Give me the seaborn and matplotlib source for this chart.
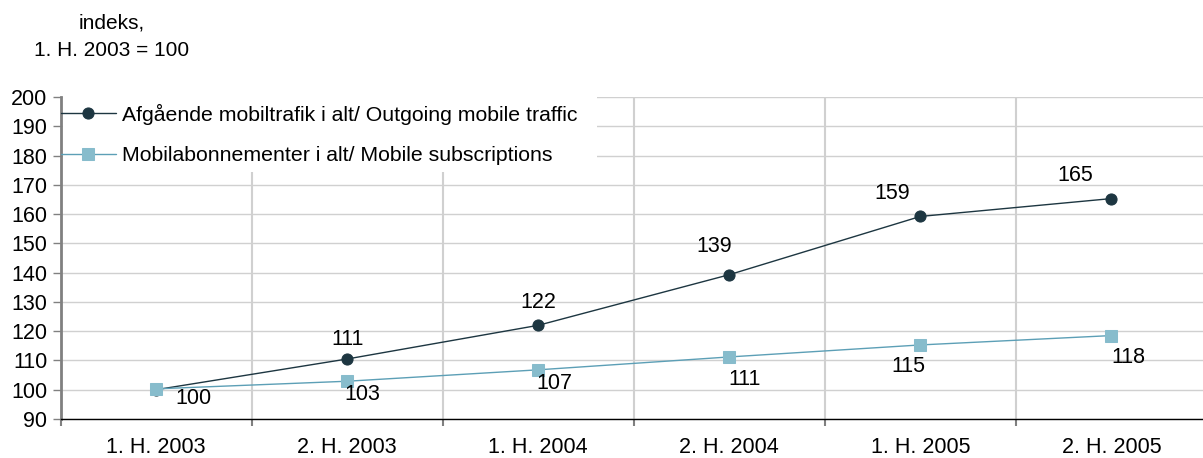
import numpy as np
import pandas as pd
import seaborn as sns
import matplotlib.pyplot as plt
from matplotlib.ticker import FixedLocator
from matplotlib.patches import Rectangle

periods = ['1. H. 2003', '2. H. 2003', '1. H. 2004', '2. H. 2004', '1. H. 2005', '2. H. 2005']
traffic = [100, 110.5, 122, 139.3, 159.2, 165.3]
subscriptions = [100.3, 102.9, 106.8, 111.2, 115.3, 118.5]
traffic_labels = ['', '111', '122', '139', '159', '165']
subs_labels = ['100', '103', '107', '111', '115', '118']

name_traffic = 'Afgående mobiltrafik i alt/ Outgoing mobile traffic'
name_subs = 'Mobilabonnementer i alt/ Mobile subscriptions'

# label offsets in pixels (dx, dy)
traffic_off = [(0, 0), (0, 19), (0, 23), (-15, 28), (-28, 23), (-36, 23)]
subs_off = [(37, -10), (15, -13), (16, -14), (15, -23), (-12, -22), (17, -22)]

df = pd.DataFrame({
    'period': periods * 2,
    'value': traffic + subscriptions,
    'series': [name_traffic] * 6 + [name_subs] * 6,
})

sns.set_style('white')
plt.rcParams['font.family'] = ['Liberation Sans', 'DejaVu Sans']
plt.rcParams['text.color'] = 'black'
fs = 15.5

fig = plt.figure(figsize=(12.03, 4.58), dpi=100)
ax = fig.add_axes([60.5 / 1203, 39 / 458, 1146.5 / 1203, 322 / 458])

dark = '#1d3641'
light = '#87bccc'
sns.lineplot(data=df, x='period', y='value', hue='series', style='series',
             markers={name_traffic: 'o', name_subs: 's'}, dashes=False,
             palette={name_traffic: dark, name_subs: '#5c9fb6'},
             linewidth=1, markersize=8, ax=ax, sort=False)

# marker faces: light series gets a lighter square
for line in ax.get_lines():
    if line.get_marker() == 's':
        line.set_markerfacecolor(light)
        line.set_markeredgecolor(light)
    elif line.get_marker() == 'o':
        line.set_markerfacecolor(dark)
        line.set_markeredgecolor(dark)

for i, (v, t) in enumerate(zip(traffic, traffic_labels)):
    if t:
        ax.annotate(t, (i, v), xytext=traffic_off[i], textcoords='offset pixels',
                    ha='center', va='center', fontsize=fs, color='black')
for i, (v, t) in enumerate(zip(subscriptions, subs_labels)):
    ax.annotate(t, (i, v), xytext=subs_off[i], textcoords='offset pixels',
                ha='center', va='center', fontsize=fs, color='black')

ax.set_xlim(-0.5, 5.5)
ax.set_ylim(90, 200)
ax.set_yticks(np.arange(90, 201, 10))
ax.tick_params(axis='y', labelsize=fs, length=5.5, width=1, color='#808080', pad=4, left=True,
               labelcolor='black')
ax.tick_params(axis='x', which='major', labelsize=fs, length=0, pad=13, labelcolor='black')
ax.xaxis.set_minor_locator(FixedLocator(np.arange(-0.5, 6, 1)))
ax.tick_params(axis='x', which='minor', length=5, width=1.5, color='#808080', bottom=True)

ax.grid(axis='y', color='#d0d0d0', linewidth=1)
ax.grid(axis='x', which='minor', color='#d0d0d0', linewidth=1.5)
ax.set_axisbelow(True)

for s in ['top', 'right']:
    ax.spines[s].set_visible(False)
ax.spines['left'].set_color('#808080')
ax.spines['left'].set_linewidth(2)
ax.spines['bottom'].set_color('black')
ax.spines['bottom'].set_linewidth(1)

ax.set_xlabel('')
ax.set_ylabel('')

# white box behind the legend, hiding the gridlines
ax.add_patch(Rectangle((0.002, 0.767), 0.466, 0.233, transform=ax.transAxes,
                       facecolor='white', edgecolor='none', zorder=1, clip_on=False))

leg = ax.legend(loc='upper left', bbox_to_anchor=(0, 0.98), fontsize=15.3, frameon=False,
                borderaxespad=0, borderpad=0, handlelength=2.6, handletextpad=0.28,
                labelspacing=1.03)
for t in leg.get_texts():
    t.set_color('black')

fig.text(112 / 1203, 1 - 23 / 458, 'indeks,', ha='center', va='center', fontsize=15, color='black')
fig.text(112 / 1203, 1 - 51 / 458, '1. H. 2003 = 100', ha='center', va='center', fontsize=15,
         color='black')

fig.savefig('out.png', dpi=100)
